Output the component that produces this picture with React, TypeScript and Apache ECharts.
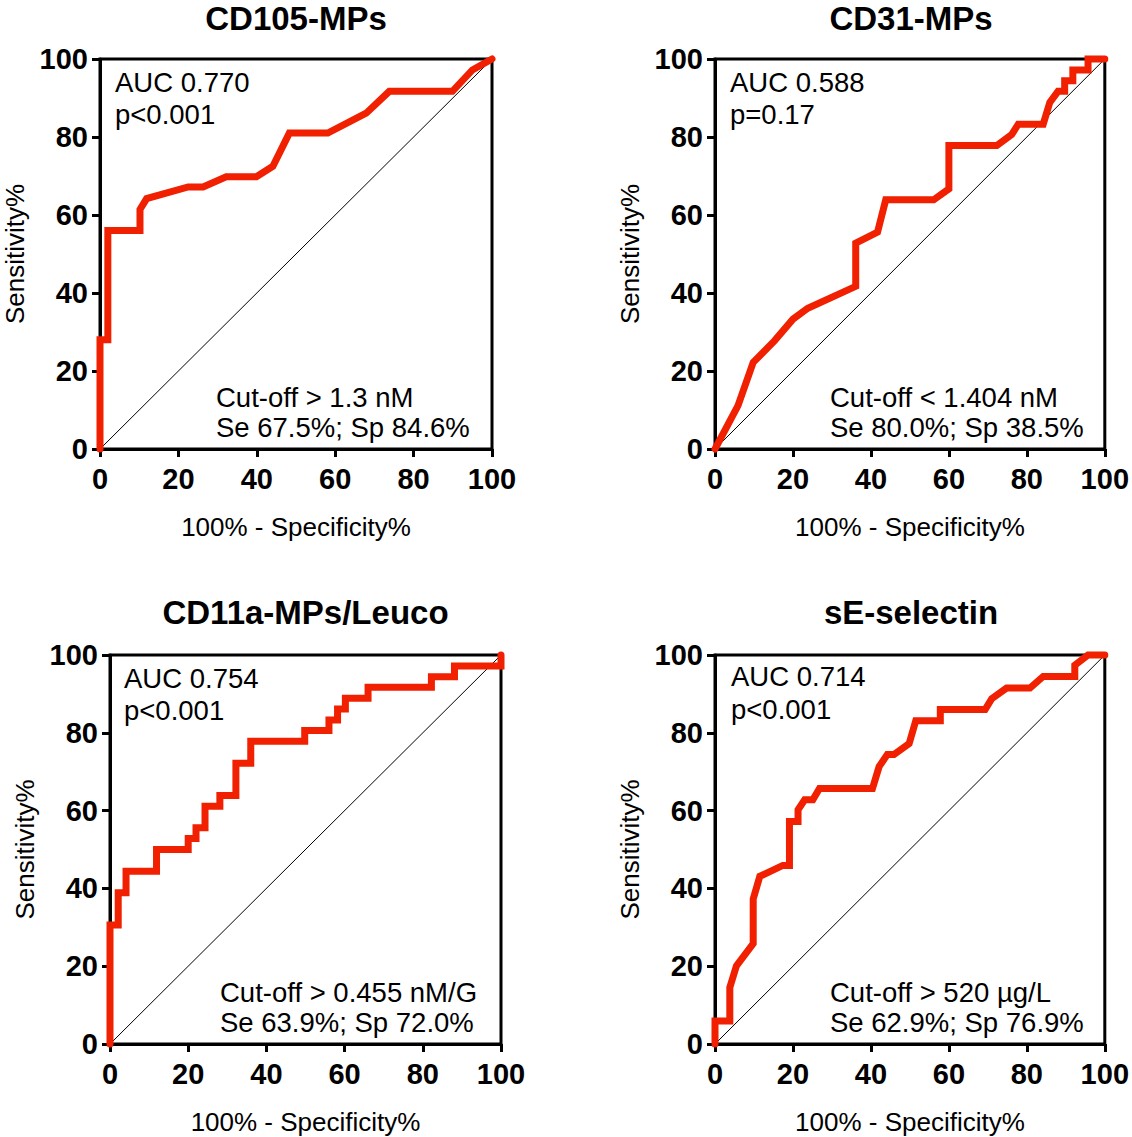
import React, { useEffect, useRef } from "react";
import * as echarts from "echarts";

const FONT = '"Liberation Sans", Arial, Helvetica, sans-serif';

const panelTitles = ["CD105-MPs", "CD31-MPs", "CD11a-MPs/Leuco", "sE-selectin"];
const aucLabels = ["AUC 0.770", "AUC 0.588", "AUC 0.754", "AUC 0.714"];
const pLabels = ["p<0.001", "p=0.17", "p<0.001", "p<0.001"];
const cutoffLabels = ["Cut-off > 1.3 nM", "Cut-off < 1.404 nM", "Cut-off > 0.455 nM/G", "Cut-off > 520 µg/L"];
const seSpLabels = ["Se 67.5%; Sp 84.6%", "Se 80.0%; Sp 38.5%", "Se 63.9%; Sp 72.0%", "Se 62.9%; Sp 76.9%"];
const tickValues = [0, 20, 40, 60, 80, 100];
const xAxisName = "100% - Specificity%";
const yAxisName = "Sensitivity%";

// CD105-MPs ROC
const cd105Spec = [0, 0, 2.0, 2.0, 10.2, 10.2, 11.9, 22.5, 26.3, 32.2, 39.9, 44.1, 48.3, 58.1, 67.9, 73.8, 89.9, 95.0, 100];
const cd105Sens = [0, 28, 28, 56, 56, 61.4, 64.2, 67.2, 67.2, 69.8, 69.8, 72.5, 81, 81, 86.1, 91.7, 91.7, 97.2, 100];

// CD31-MPs ROC
const cd31Spec = [0, 5.9, 9.8, 15.3, 20.0, 23.8, 36.1, 36.1, 41.7, 43.8, 56.1, 60.0, 60.0, 72.3, 76.1, 77.8, 84.2, 85.9, 88.0, 89.7, 89.7, 91.8, 91.8, 95.7, 95.7, 100];
const cd31Sens = [0, 11.1, 22.2, 27.8, 33.3, 36.1, 41.7, 52.8, 55.6, 63.9, 63.9, 66.7, 77.8, 77.8, 80.6, 83.3, 83.3, 88.9, 91.7, 91.7, 94.4, 94.4, 97.2, 97.2, 100, 100];

// CD11a-MPs/Leuco ROC
const cd11aSpec = [0, 0, 2.1, 2.1, 4.1, 4.1, 11.9, 11.9, 20.0, 20.0, 22.0, 22.0, 24.3, 24.3, 28.1, 28.1, 32.2, 32.2, 36.0, 36.0, 49.8, 49.8, 56.0, 56.0, 58.2, 58.2, 60.2, 60.2, 66.0, 66.0, 82.2, 82.2, 88.1, 88.1, 100, 100];
const cd11aSens = [0, 30.6, 30.6, 38.9, 38.9, 44.4, 44.4, 50.0, 50.0, 52.8, 52.8, 55.6, 55.6, 61.1, 61.1, 63.9, 63.9, 72.2, 72.2, 77.8, 77.8, 80.6, 80.6, 83.3, 83.3, 86.1, 86.1, 88.9, 88.9, 91.7, 91.7, 94.4, 94.4, 97.2, 97.2, 100];

// sE-selectin ROC
const seSpec = [0, 0, 3.8, 3.8, 5.5, 9.8, 9.8, 11.5, 17.4, 19.1, 19.1, 21.3, 21.3, 23.0, 25.1, 26.8, 40.4, 42.1, 44.2, 45.9, 49.8, 51.5, 57.8, 57.8, 69.3, 71.0, 74.8, 80.8, 84.2, 92.3, 92.3, 95.7, 100];
const seSens = [0, 5.9, 5.9, 14.5, 20.1, 25.8, 37.3, 43.1, 45.9, 45.9, 57.2, 57.2, 60.2, 62.8, 62.8, 65.7, 65.7, 71.3, 74.4, 74.4, 77.2, 83.1, 83.1, 86.0, 86.0, 88.8, 91.5, 91.5, 94.5, 94.5, 97.4, 100, 100];

const rocSpec = [cd105Spec, cd31Spec, cd11aSpec, seSpec];
const rocSens = [cd105Sens, cd31Sens, cd11aSens, seSens];
const chanceLine = [0, 100];

const grids = [
  { left: 100, top: 59, width: 392, height: 390 },
  { left: 715, top: 59, width: 392, height: 390 },
  { left: 110, top: 655, width: 391, height: 389 },
  { left: 715, top: 655, width: 392, height: 389 },
];

export default function App() {
  const ref = useRef<HTMLDivElement>(null);
  useEffect(() => {
    if (!ref.current) return;
    const chart = echarts.init(ref.current, null, { renderer: "svg" });
    const black = "#000";
    const red = "#F02000";

    const xAxes = grids.map((_, i) => ({
      gridIndex: i,
      type: "value",
      min: 0,
      max: 100,
      interval: 20,
      name: xAxisName,
      nameLocation: "middle",
      nameGap: 65,
      nameTextStyle: { fontSize: 26, color: black, fontFamily: FONT },
      axisLine: { show: true, onZero: false, lineStyle: { color: black, width: 3 } },
      axisTick: { show: true, inside: false, length: 8, lineStyle: { color: black, width: 3 } },
      axisLabel: {
        fontSize: 29, fontWeight: "bold", color: black, margin: 15, fontFamily: FONT,
        showMinLabel: true, showMaxLabel: true,
        formatter: (v: number) => (tickValues.includes(v) ? String(v) : ""),
      },
      splitLine: { show: false },
    }));
    const yAxes = grids.map((_, i) => ({
      gridIndex: i,
      type: "value",
      min: 0,
      max: 100,
      interval: 20,
      name: yAxisName,
      nameLocation: "middle",
      nameRotate: 90,
      nameGap: 72,
      nameTextStyle: { fontSize: 26, color: black, fontFamily: FONT },
      axisLine: { show: true, onZero: false, lineStyle: { color: black, width: 3 } },
      axisTick: { show: true, inside: false, length: 8, lineStyle: { color: black, width: 3 } },
      axisLabel: {
        fontSize: 29, fontWeight: "bold", color: black, margin: 12, fontFamily: FONT,
        showMinLabel: true, showMaxLabel: true,
      },
      splitLine: { show: false },
    }));

    const series: any[] = [];
    grids.forEach((_, i) => {
      series.push({
        type: "line",
        xAxisIndex: i,
        yAxisIndex: i,
        data: chanceLine.map((v) => [v, v]),
        symbol: "none",
        lineStyle: { color: black, width: 1 },
        z: 2,
        silent: true,
      });
      series.push({
        type: "line",
        xAxisIndex: i,
        yAxisIndex: i,
        data: rocSpec[i].map((x, j) => [x, rocSens[i][j]]),
        symbol: "none",
        clip: false,
        lineStyle: { color: red, width: 7, cap: "round", join: "miter" },
        z: 3,
        silent: true,
      });
    });

    const annot: any[] = [];
    const aucPos = [
      [115, 82, 114],
      [730, 82, 114],
      [124, 678, 710],
      [731, 676, 709],
    ];
    const cutPos = [
      [216, 397, 427],
      [830, 397, 427],
      [220, 992, 1022],
      [830, 992, 1022],
    ];
    const txt = (text: string, x: number, y: number) => ({
      type: "text",
      x,
      y,
      z: 10,
      style: {
        text,
        fill: black,
        fontSize: 27.5,
        fontFamily: FONT,
        align: "left",
        verticalAlign: "middle",
      },
    });
    grids.forEach((_, i) => {
      annot.push(txt(aucLabels[i], aucPos[i][0], aucPos[i][1]));
      annot.push(txt(pLabels[i], aucPos[i][0], aucPos[i][2]));
      annot.push(txt(cutoffLabels[i], cutPos[i][0], cutPos[i][1]));
      annot.push(txt(seSpLabels[i], cutPos[i][0], cutPos[i][2]));
    });

    chart.setOption({
      animation: false,
      backgroundColor: "#fff",
      title: grids.map((g, i) => ({
        text: panelTitles[i],
        left: g.left + g.width / 2,
        top: i < 2 ? 2 : 596,
        padding: 0,
        textAlign: "center",
        textStyle: { fontSize: 33, fontWeight: "bold", color: black, fontFamily: FONT },
      })),
      grid: grids.map((g) => ({
        ...g,
        show: true,
        borderColor: black,
        borderWidth: 3,
        backgroundColor: "transparent",
        containLabel: false,
      })),
      xAxis: xAxes,
      yAxis: yAxes,
      series,
      graphic: annot,
    });
    return () => chart.dispose();
  }, []);
  return (
    <div
      ref={ref}
      style={{ position: "absolute", left: 0, top: 0, width: 1132, height: 1137 }}
    />
  );
}
